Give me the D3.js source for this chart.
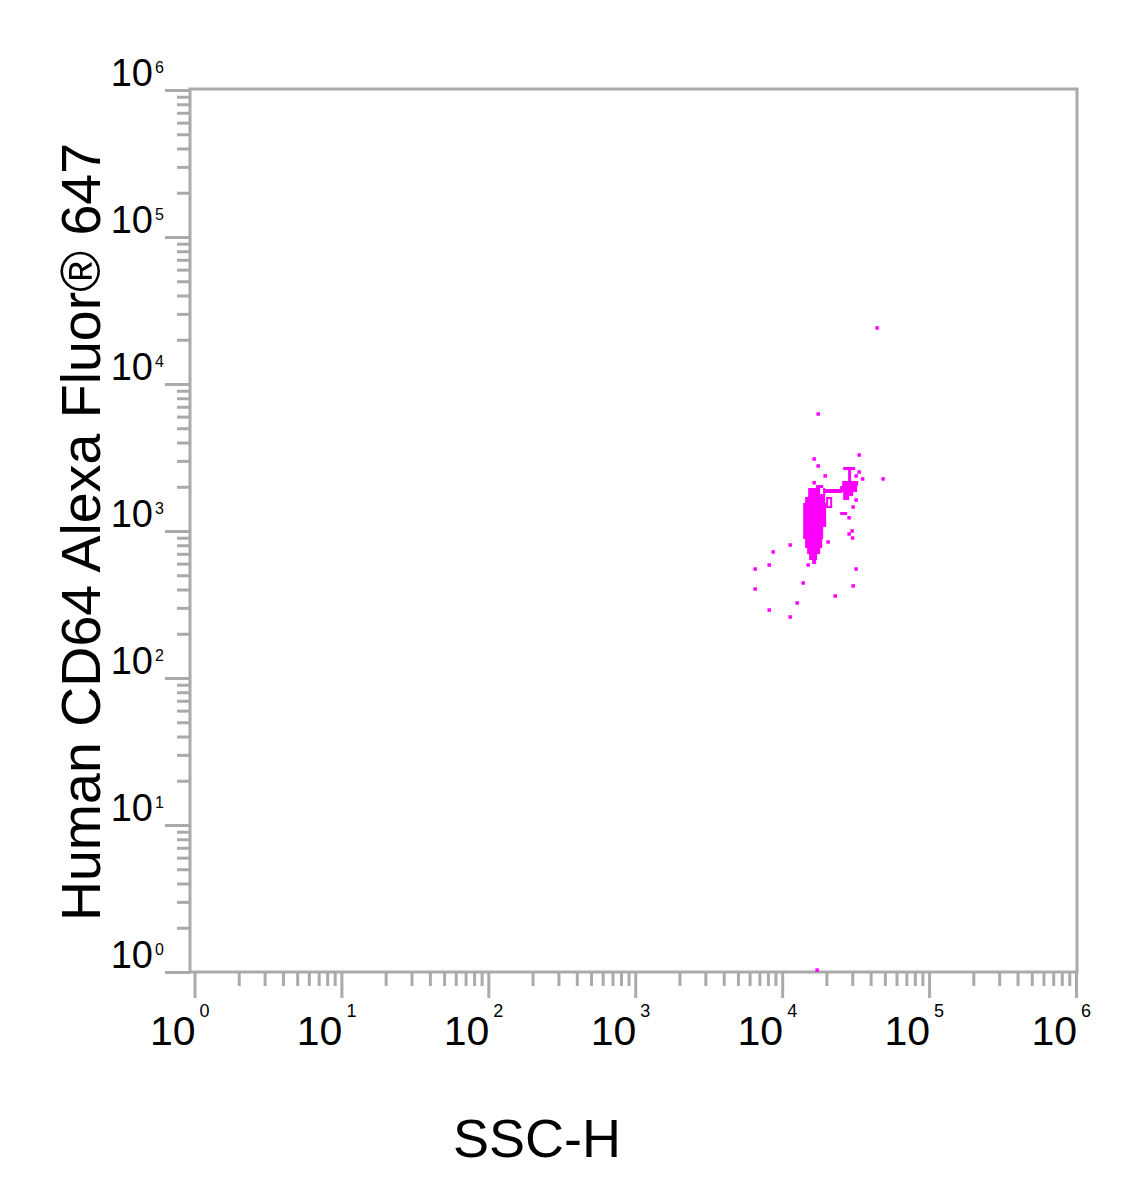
<!DOCTYPE html>
<html><head><meta charset="utf-8">
<script src="https://cdn.jsdelivr.net/npm/d3@7"></script>
<style>body{margin:0;background:#fff}svg{display:block}</style>
</head><body>
<svg id="chart" width="1133" height="1201"></svg>
<script>
// ---- data ----
const decadeExponents = [0, 1, 2, 3, 4, 5, 6];
const tickLabelBase = "10";
const xTitle = "SSC-H";
const yTitle = "Human CD64 Alexa Fluor® 647";

// individual events: SSC-H and CD64 values
const eventSSC  = [44290, 17580, 33420, 16510, 17580, 19620, 33420, 35300, 48640, 31870,
                   16510, 31870, 30410, 28560, 29930, 28560, 30170, 20560, 11340, 8690,
                   8160, 6550, 31870, 15030, 13900, 30410, 6550, 22950, 12650, 8160,
                   11340, 17290];
const eventCD64 = [24050, 6250, 3290, 3090, 2770, 2370, 2520, 2260, 2260, 2370,
                   2130, 1625, 1456, 1230, 1000, 954, 896, 842, 803, 720,
                   587, 551, 551, 587, 443, 423, 403, 361, 324, 290,
                   260, 1.03];

// dense (saturated) event regions: SSC range and CD64 range
const denseSSCLow   = [17030, 15030, 19010, 18140, 14330, 13900, 13900, 14330, 14790, 15260, 16000,
                       26010, 28120, 25610, 24820, 26010, 26010, 19010, 19920, 19920, 21220, 19920, 24820];
const denseSSCHigh  = [19010, 18140, 19620, 19010, 19620, 19920, 19010, 18720, 18140, 17290, 17030,
                       31390, 29460, 32880, 32370, 30410, 28560, 25610, 21890, 20560, 21890, 21890, 27690];
const denseCD64Low  = [1961, 1704, 1704, 1704, 1550, 1065, 882, 766, 697, 635, 596,
                       2600, 2188, 2024, 1842, 1730, 1625, 1814, 1651, 1434, 1434, 1434, 1285];
const denseCD64High = [2055, 1961, 1961, 1786, 1704, 1550, 1065, 882, 766, 697, 635,
                       2725, 2600, 2188, 2024, 1842, 1730, 1931, 1704, 1651, 1651, 1480, 1347];

// ---- layout ----
const frame = {left: 190, right: 1077, top: 89, bottom: 972};
const axisColor = "#aaaaaa";
const dotColor = "#ff00ff";
const font = "'Liberation Sans', Arial, Helvetica, sans-serif";

const svg = d3.select("#chart");
const x = d3.scaleLog().domain([1, 1e6]).range([194.5, 1076]);
const y = d3.scaleLog().domain([1, 1e6]).range([972, 90]);

const majors = decadeExponents.map(e => Math.pow(10, e));
const minors = [];
decadeExponents.slice(0, -1).forEach(e => { for (let k = 2; k <= 9; k++) minors.push(k * Math.pow(10, e)); });

// frame
svg.append("rect")
  .attr("x", frame.left).attr("y", frame.top)
  .attr("width", frame.right - frame.left).attr("height", frame.bottom - frame.top)
  .attr("fill", "none").attr("stroke", axisColor).attr("stroke-width", 3);

// x axis ticks
const xAxisMajor = d3.axisBottom(x).tickValues(majors).tickSize(26).tickFormat("");
const xAxisMinor = d3.axisBottom(x).tickValues(minors).tickSize(14).tickFormat("");
[xAxisMajor, xAxisMinor].forEach(ax => {
  const g = svg.append("g").attr("transform", `translate(0,${frame.bottom})`).call(ax);
  g.select(".domain").remove();
  g.selectAll("line").attr("stroke", axisColor).attr("stroke-width", 3);
});
// y axis ticks
const yAxisMajor = d3.axisLeft(y).tickValues(majors).tickSize(25).tickFormat("");
const yAxisMinor = d3.axisLeft(y).tickValues(minors).tickSize(13).tickFormat("");
[yAxisMajor, yAxisMinor].forEach(ax => {
  const g = svg.append("g").attr("transform", `translate(${frame.left},0)`).call(ax);
  g.select(".domain").remove();
  g.selectAll("line").attr("stroke", axisColor).attr("stroke-width", 3);
});

// x tick labels
const xl = svg.append("g").attr("font-family", font).attr("fill", "#000");
decadeExponents.forEach(e => {
  const px = x(Math.pow(10, e));
  xl.append("text").attr("x", px + 1).attr("y", 1045).attr("text-anchor", "end")
    .attr("font-size", 41).text(tickLabelBase);
  xl.append("text").attr("x", px + 5).attr("y", 1017).attr("text-anchor", "start")
    .attr("font-size", 18).text(String(e));
});
// y tick labels
const yl = svg.append("g").attr("font-family", font).attr("fill", "#000");
decadeExponents.forEach(e => {
  const py = y(Math.pow(10, e));
  yl.append("text").attr("x", 153).attr("y", py - 4.5).attr("text-anchor", "end")
    .attr("font-size", 38).text(tickLabelBase);
  yl.append("text").attr("x", 155).attr("y", py - 17).attr("text-anchor", "start")
    .attr("font-size", 16).text(String(e));
});

// titles
svg.append("text").attr("x", 537).attr("y", 1157).attr("text-anchor", "middle")
  .attr("font-family", font).attr("font-size", 54).attr("fill", "#000").text(xTitle);
svg.append("text").attr("transform", "translate(100,532) rotate(-90)").attr("text-anchor", "middle")
  .attr("font-family", font).attr("font-size", 55.5).attr("fill", "#000").text(yTitle);

// dense regions
const dense = denseSSCLow.map((v, i) => ({x0: v, x1: denseSSCHigh[i], y0: denseCD64Low[i], y1: denseCD64High[i]}));
svg.append("g").selectAll("rect").data(dense).join("rect")
  .attr("x", d => x(d.x0)).attr("width", d => x(d.x1) - x(d.x0))
  .attr("y", d => y(d.y1)).attr("height", d => y(d.y0) - y(d.y1))
  .attr("fill", dotColor);

// single events
const events = eventSSC.map((v, i) => ({ssc: v, cd64: eventCD64[i]}));
svg.append("g").selectAll("rect").data(events).join("rect")
  .attr("x", d => x(d.ssc) - 1.75).attr("y", d => y(d.cd64) - 1.75)
  .attr("width", 3.5).attr("height", 3.5).attr("fill", dotColor);
</script>
</body></html>
